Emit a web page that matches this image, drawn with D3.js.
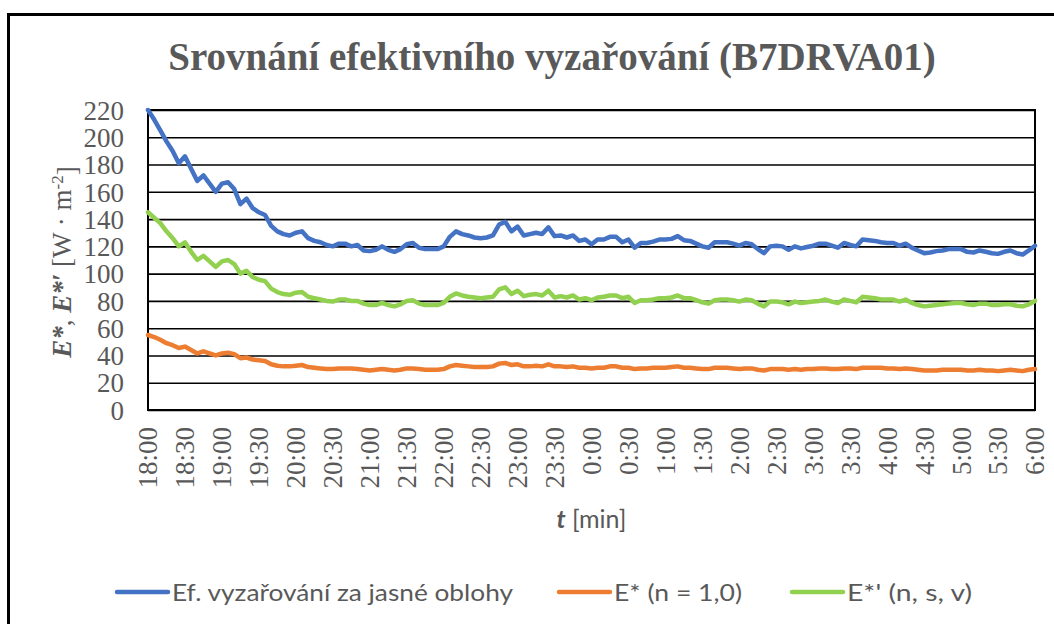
<!DOCTYPE html>
<html>
<head>
<meta charset="utf-8">
<script src="https://cdnjs.cloudflare.com/ajax/libs/d3/7.8.5/d3.min.js"></script>
<style>
    body { margin: 0; background: #fff; }
    svg { display: block; }
</style>
</head>
<body>
<div id="chart"></div>
<script>

// x axis labels, one every 30 min (data every 5 min)
var timeLabels = ["18:00", "18:30", "19:00", "19:30", "20:00", "20:30", "21:00", "21:30",
    "22:00", "22:30", "23:00", "23:30", "0:00", "0:30", "1:00", "1:30", "2:00", "2:30",
    "3:00", "3:30", "4:00", "4:30", "5:00", "5:30", "6:00"];

var yTicks = [0, 20, 40, 60, 80, 100, 120, 140, 160, 180, 200, 220];

var seriesNames = ["Ef. vyzařování za jasné oblohy", "E* (n = 1,0)", "E*' (n, s, v)"];

var clearSky = [220, 213, 205, 197, 190, 181, 186, 177, 168, 172,
    166, 160, 166, 167, 162, 151, 155, 148, 145, 143,
    135, 131, 129, 128, 130, 131, 126, 124, 123, 121,
    120, 122, 122, 120, 121, 117, 116.5, 117.5, 120, 117.5,
    116, 118, 121.5, 122.5, 119, 118, 118, 118, 120, 127,
    131, 129, 128, 126.5, 126, 126.5, 128, 136, 138, 131,
    134.5, 128, 129, 130, 129, 134, 127.5, 128, 126.5, 128,
    124, 125, 121.5, 125, 125, 127, 127, 123, 125, 119,
    122.5, 122.5, 123.5, 125, 125, 125.5, 127.5, 124.5, 124, 122,
    120, 119, 123, 123, 123, 122, 120.5, 122.5, 121.5, 118,
    115, 120, 120.5, 120, 117.5, 120, 118.5, 119.5, 120.5, 122,
    122, 120.5, 119, 122.5, 121, 120, 125, 124.5, 124, 123,
    122.5, 122.5, 120.5, 122, 119, 117, 115, 115.5, 116.5, 117,
    118, 118, 118, 116, 115.5, 117, 116, 115, 114.5, 116,
    117, 115, 114, 117, 120.5];

var eStar = [55, 53.5, 51.5, 49, 47.5, 45.5, 46.5, 44, 41.5, 43,
    41.5, 40, 41.5, 42, 41, 38, 38.5, 37, 36.5, 36,
    33.5, 32.5, 32, 32, 32.5, 33, 31.5, 31, 30.5, 30,
    30, 30.5, 30.5, 30.5, 30, 29.5, 29, 29.5, 30, 29.5,
    29, 29.5, 30.5, 30.5, 30, 29.5, 29.5, 29.5, 30, 32,
    33, 32.5, 32, 31.5, 31.5, 31.5, 32, 34, 34.5, 33,
    33.5, 32, 32, 32.5, 32, 33.5, 32, 32, 31.5, 32,
    31, 31, 30.5, 31, 31, 32, 32, 31, 31, 30,
    30.5, 30.5, 31, 31, 31, 31.5, 32, 31, 31, 30.5,
    30, 30, 31, 31, 31, 30.5, 30, 30.5, 30.5, 29.5,
    29, 30, 30, 30, 29.5, 30, 29.5, 30, 30, 30.5,
    30.5, 30, 30, 30.5, 30.5, 30, 31, 31, 31, 31,
    30.5, 30.5, 30, 30.5, 30, 29.5, 29, 29, 29, 29.5,
    29.5, 29.5, 29.5, 29, 29, 29.5, 29, 29, 28.5, 29,
    29.5, 29, 28.5, 29.5, 30];

var eStarNsv = [145, 141, 137, 131, 126, 120, 123, 116, 110, 113,
    109, 105, 109, 110, 107, 100, 102, 97.5, 95.5, 94.5,
    89, 86.5, 85, 84.5, 86, 86.5, 83, 82, 81, 80,
    79.5, 81, 81, 80, 80, 78, 77, 77, 78.5, 77,
    76, 77.5, 80, 80.5, 78, 77, 77, 77, 78.5, 83,
    85.5, 84, 83, 82.5, 82, 82.5, 83, 88.5, 90, 85,
    87.5, 83.5, 84.5, 85, 84, 87.5, 82.5, 83.5, 82.5, 84,
    81, 82, 80.5, 82.5, 83, 84, 84, 82, 83, 78.5,
    80.5, 80.5, 81, 82, 82, 82.5, 84, 82, 82, 80.5,
    79, 78, 80.5, 81, 81, 80.5, 79.5, 81, 80.5, 78,
    76, 79.5, 79.5, 79, 77.5, 79.5, 78.5, 79, 79.5, 80,
    81, 79.5, 78.5, 81, 80, 79, 83, 82.5, 82, 81,
    81, 81, 79.5, 81, 78.5, 77, 76, 76.5, 77, 77.5,
    78, 78.5, 78.5, 77.5, 77, 78, 78, 77, 77, 77.5,
    77.5, 76.5, 76, 77.5, 80];

var colors = ["#4472C4", "#ED7D31", "#92D050"];
var textColor = "#595959";
var serif = "'Liberation Serif', 'Times New Roman', serif";
var sans = "Lato, 'Noto Sans', sans-serif";

var W = 1054, H = 624;
var margin = { top: 110, right: 19, bottom: 214, left: 148 };
var width = W - margin.left - margin.right,
    height = H - margin.top - margin.bottom;

var svg = d3.select("#chart").append("svg")
    .attr("width", W)
    .attr("height", H);

// outer frame (right and bottom sides fall outside the picture)
svg.append("path")
    .attr("d", "M8.5," + H + "V14.5H" + W)
    .attr("fill", "none")
    .attr("stroke", "#000")
    .attr("stroke-width", 3);

svg.append("text")
    .attr("x", 552)
    .attr("y", 70)
    .attr("text-anchor", "middle")
    .style("font-family", serif)
    .style("font-weight", "bold")
    .style("font-size", "39px")
    .style("fill", textColor)
    .text("Srovnání efektivního vyzařování (B7DRVA01)");

var g = svg.append("g")
    .attr("transform", "translate(" + margin.left + "," + margin.top + ")");

var x = d3.scaleLinear()
    .domain([0, clearSky.length - 1])
    .range([0, width]);

var y = d3.scaleLinear()
    .domain([0, 220])
    .range([height, 0]);

// horizontal grid
var grid = g.append("g")
    .call(d3.axisLeft(y).tickValues(yTicks).tickSize(-width).tickFormat(""));
grid.select(".domain").remove();
grid.selectAll(".tick line").attr("stroke", "#000").attr("stroke-width", 1.6);

// y labels
var yAxis = g.append("g")
    .call(d3.axisLeft(y).tickValues(yTicks).tickSize(0).tickPadding(24));
yAxis.select(".domain").remove();
yAxis.selectAll(".tick text")
    .style("font-family", serif)
    .style("font-size", "27px")
    .style("fill", textColor)
    .attr("dy", "0.34em");

// x labels
var xAxis = g.append("g")
    .attr("transform", "translate(0," + height + ")")
    .call(d3.axisBottom(x)
        .tickValues(d3.range(0, clearSky.length, 6))
        .tickSize(0)
        .tickFormat(function(d, i) { return timeLabels[i]; }));
xAxis.select(".domain").remove();
xAxis.selectAll(".tick text")
    .attr("transform", "rotate(-90)")
    .attr("x", -17)
    .attr("y", 0)
    .attr("dy", "0.33em")
    .attr("text-anchor", "end")
    .style("font-family", serif)
    .style("font-size", "27px")
    .style("fill", textColor);

// plot area border
g.append("rect")
    .attr("width", width)
    .attr("height", height)
    .attr("fill", "none")
    .attr("stroke", "#000")
    .attr("stroke-width", 2);

var line = d3.line()
    .x(function(d, i) { return x(i); })
    .y(function(d) { return y(d); });

[clearSky, eStar, eStarNsv].forEach(function(s, k) {
    g.append("path")
        .datum(s)
        .attr("d", line)
        .attr("fill", "none")
        .attr("stroke", colors[k])
        .attr("stroke-width", 4.5)
        .attr("stroke-linejoin", "round")
        .attr("stroke-linecap", "round");
});

// y axis title
var yTitle = svg.append("text")
    .attr("transform", "translate(71,262) rotate(-90)")
    .attr("text-anchor", "middle")
    .style("font-family", serif)
    .style("font-size", "27px")
    .style("fill", textColor);
yTitle.append("tspan").style("font-weight", "bold").style("font-style", "italic").text("E*");
yTitle.append("tspan").text(", ");
yTitle.append("tspan").style("font-weight", "bold").style("font-style", "italic").text("E*′");
yTitle.append("tspan").text(" [W · m");
yTitle.append("tspan").attr("dy", "-0.45em").style("font-size", "17px").text("-2");
yTitle.append("tspan").attr("dy", "0.45em").text("]");

// x axis title
var xTitle = svg.append("text")
    .attr("x", margin.left + width / 2)
    .attr("y", 528)
    .attr("text-anchor", "middle")
    .style("font-family", sans)
    .style("font-size", "25px")
    .style("fill", textColor);
xTitle.append("tspan").style("font-weight", "bold").style("font-style", "italic").text("t");
xTitle.append("tspan").text(" [min]");

// legend
var legendX = [115, 557, 790];
var legendW = [341, 128, 125];
var legend = svg.selectAll(".legend")
    .data(seriesNames)
    .enter().append("g")
    .attr("class", "legend")
    .attr("transform", function(d, i) { return "translate(" + legendX[i] + ",592)"; });

legend.append("line")
    .attr("x1", 2).attr("x2", 53)
    .attr("stroke", function(d, i) { return colors[i]; })
    .attr("stroke-width", 4.5)
    .attr("stroke-linecap", "round");

legend.append("text")
    .attr("x", 57)
    .attr("dy", "0.36em")
    .attr("textLength", function(d, i) { return legendW[i]; })
    .attr("lengthAdjust", "spacingAndGlyphs")
    .style("font-family", sans)
    .style("font-size", "24px")
    .style("fill", textColor)
    .text(function(d) { return d; });

</script>
</body>
</html>
